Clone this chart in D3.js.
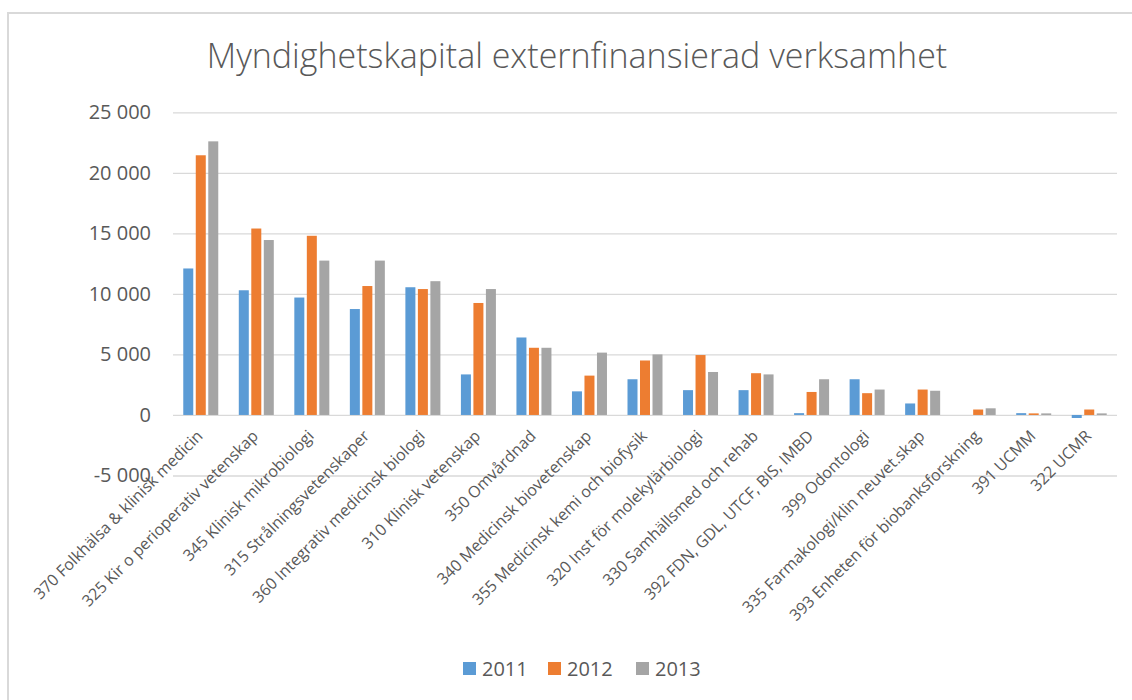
<!DOCTYPE html>
<html>
<head>
<meta charset="utf-8">
<title>Myndighetskapital externfinansierad verksamhet</title>
<script src="https://cdn.jsdelivr.net/npm/d3@7"></script>
<style>
    body { margin: 0; background: #fff; }
    #chart { width: 1132px; height: 700px; }
    text { font-family: "Open Sans", "DejaVu Sans", sans-serif; fill: #595959; }
</style>
</head>
<body>
<div id="chart"></div>
<script>

// categories (departments) in the order they appear
let categories = [
    "370 Folkhälsa & klinisk medicin",
    "325 Kir o perioperativ vetenskap",
    "345 Klinisk mikrobiologi",
    "315 Strålningsvetenskaper",
    "360 Integrativ medicinsk biologi",
    "310 Klinisk vetenskap",
    "350 Omvårdnad",
    "340 Medicinsk biovetenskap",
    "355 Medicinsk kemi och biofysik",
    "320 Inst för molekylärbiologi",
    "330 Samhällsmed och rehab",
    "392 FDN, GDL, UTCF, BIS, IMBD",
    "399 Odontologi",
    "335 Farmakologi/klin neuvet.skap",
    "393 Enheten för biobanksforskning",
    "391 UCMM",
    "322 UCMR"
];

let years = ["2011", "2012", "2013"];

// values
let values2011 = [12100, 10300, 9700, 8750, 10550, 3350, 6400, 1950, 2950, 2050, 2050, 150, 2950, 950, 0, 150, -250];
let values2012 = [21450, 15400, 14800, 10650, 10400, 9250, 5550, 3250, 4500, 4950, 3450, 1900, 1800, 2100, 450, 130, 450];
let values2013 = [22600, 14450, 12750, 12750, 11050, 10400, 5550, 5150, 5000, 3550, 3350, 2950, 2100, 2000, 550, 130, 130];

let yTicks = [-5000, 0, 5000, 10000, 15000, 20000, 25000];

let colors = ['#5B9BD5', '#ED7D31', '#A5A5A5'];


class GroupedBarChart {

    constructor(parentElement) {
        this.parentElement = parentElement;
        this.series = [values2011, values2012, values2013];
        this.colorScale = d3.scaleOrdinal().domain(years).range(colors);
    }

    initVis() {
        let vis = this;

        vis.svg = d3.select("#" + vis.parentElement).append("svg")
            .attr("width", 1132)
            .attr("height", 700);

        // outer frame of the chart area
        vis.svg.append("rect")
            .attr("x", 8)
            .attr("y", 13)
            .attr("width", 1140)
            .attr("height", 700)
            .attr("fill", "none")
            .attr("stroke", "#d9d9d9")
            .attr("stroke-width", 2);

        vis.svg.append("text")
            .attr("x", 577)
            .attr("y", 68)
            .attr("text-anchor", "middle")
            .style("font-size", "34px")
            .style("font-weight", 300)
            .text("Myndighetskapital externfinansierad verksamhet");

        vis.plot = { left: 173, right: 1117 };

        vis.x0 = d3.scaleBand()
            .domain(categories)
            .range([vis.plot.left, vis.plot.right])
            .padding(0);

        vis.x1 = d3.scaleBand()
            .domain(years)
            .range([-17.5, 17.5])
            .paddingInner(0.2);

        vis.y = d3.scaleLinear()
            .domain([-5000, 25000])
            .range([475.5, 112.3]);

        vis.wrangleData();
    }

    wrangleData() {
        let vis = this;

        vis.displayData = [];
        categories.forEach((c, i) => {
            years.forEach((yr, j) => {
                vis.displayData.push({ category: c, year: yr, value: vis.series[j][i] });
            });
        });

        vis.updateVis();
    }

    updateVis() {
        let vis = this;

        let sv = d3.formatLocale({ decimal: ",", thousands: " ", grouping: [3], currency: ["", ""], minus: "-" });
        let fmt = sv.format(",");

        // gridlines + y labels
        let yAxis = d3.axisLeft(vis.y)
            .tickValues(yTicks)
            .tickSize(-(vis.plot.right - vis.plot.left))
            .tickPadding(22)
            .tickFormat(fmt);

        let gy = vis.svg.append("g")
            .attr("class", "y-axis axis")
            .attr("transform", "translate(" + vis.plot.left + ",0)")
            .call(yAxis);
        gy.select(".domain").remove();
        gy.selectAll(".tick line").attr("stroke", "#d9d9d9").attr("stroke-width", 1.3);
        gy.selectAll(".tick text")
            .attr("fill", "#595959")
            .style("font-size", "20px")
            .style("font-family", "\"Open Sans\", sans-serif");

        // bars
        vis.svg.append("g").selectAll("rect")
            .data(vis.displayData)
            .enter().append("rect")
            .attr("x", d => vis.x0(d.category) + vis.x0.bandwidth() / 2 + vis.x1(d.year))
            .attr("y", d => vis.y(Math.max(0, d.value)))
            .attr("width", vis.x1.bandwidth())
            .attr("height", d => Math.max(1.5, Math.abs(vis.y(d.value) - vis.y(0))))
            .attr("fill", d => vis.colorScale(d.year))
            .attr("fill-opacity", d => d.value === 0 ? 0 : 1);

        // category labels rotated -45 degrees
        vis.svg.append("g").selectAll("text")
            .data(categories)
            .enter().append("text")
            .attr("text-anchor", "end")
            .attr("transform", d => "translate(" + (vis.x0(d) + vis.x0.bandwidth() / 2 + 3) + ",437) rotate(-45)")
            .style("font-size", "16px")
            .text(d => d);

        // legend
        let legendX = [463, 548, 636];
        let legend = vis.svg.append("g").selectAll("g")
            .data(years)
            .enter().append("g")
            .attr("transform", (d, i) => "translate(" + legendX[i] + ",662)");

        legend.append("rect")
            .attr("width", 13)
            .attr("height", 13)
            .attr("fill", d => vis.colorScale(d));

        legend.append("text")
            .attr("x", 19)
            .attr("y", 13.5)
            .style("font-size", "20px")
            .text(d => d);
    }
}

let chart = new GroupedBarChart("chart");
chart.initVis();

</script>
</body>
</html>
